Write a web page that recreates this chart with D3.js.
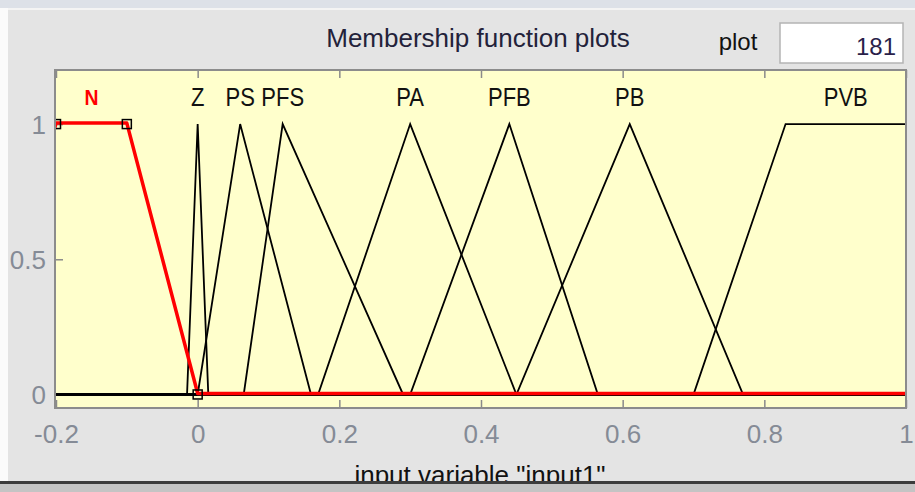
<!DOCTYPE html>
<html>
<head>
<meta charset="utf-8">
<script src="https://d3js.org/d3.v7.min.js"></script>
<style>
body {margin: 0; background: #e4e4e4;}
text {font-family: "Liberation Sans", Arial, sans-serif;}
</style>
</head>
<body>
<svg id="chart" width="915" height="492"></svg>
<script>
// membership functions of input1 (params)
var mfNames  = ["N", "Z", "PS", "PFS", "PA", "PFB", "PB", "PVB"];
var mfTypes  = ["trapmf", "trimf", "trimf", "trimf", "trimf", "trimf", "trimf", "trapmf"];
var mfParams = [
    [-0.3, -0.2, -0.1, 0],
    [-0.015, 0, 0.015],
    [0, 0.06, 0.16],
    [0.065, 0.12, 0.29],
    [0.17, 0.3, 0.45],
    [0.3, 0.44, 0.565],
    [0.45, 0.61, 0.77],
    [0.7, 0.83, 1, 1.1]
];
var selected = 0;   // N is highlighted
var xRange = [-0.2, 1];
var yRange = [-0.05, 1.2];
var xTicks = [-0.2, 0, 0.2, 0.4, 0.6, 0.8, 1];
var yTicks = [0, 0.5, 1];
var plotPoints = 181;

var svg = d3.select("#chart");
var W = 915, H = 492;
var box = {left: 55, right: 906, top: 70, bottom: 408};

//background
svg.append("rect").attr("width", W).attr("height", H).attr("fill", "#e4e4e4");
svg.append("rect").attr("width", W).attr("height", 8).attr("fill", "#dde1e8");
svg.append("rect").attr("y", 8).attr("width", W).attr("height", 2).attr("fill", "#f4f4f4");
svg.append("rect").attr("y", 8).attr("width", 8).attr("height", 474).attr("fill", "#fbfbfb");

//scales
var x = d3.scaleLinear().domain(xRange).range([56, 906]);
var y = d3.scaleLinear().domain(yRange).range([box.bottom, box.top]);

//title + plot points box
svg.append("text").attr("x", 478).attr("y", 47).attr("text-anchor", "middle")
    .style("font-size", "26px").attr("fill", "#23223a").text("Membership function plots");
svg.append("text").attr("x", 738).attr("y", 50).attr("text-anchor", "middle")
    .style("font-size", "24px").attr("fill", "#111").text("plot");
svg.append("rect").attr("x", 780).attr("y", 23).attr("width", 123).attr("height", 40)
    .attr("fill", "#fff").attr("stroke", "#b4b4b4").attr("stroke-width", 1.5);
svg.append("text").attr("x", 896).attr("y", 55).attr("text-anchor", "end")
    .style("font-size", "24px").attr("fill", "#2a1f4a").text(plotPoints);

//axes box
svg.append("rect").attr("x", box.left).attr("y", box.top)
    .attr("width", box.right - box.left).attr("height", box.bottom - box.top)
    .attr("fill", "#ffffcc");

svg.append("clipPath").attr("id", "clip").append("rect")
    .attr("x", box.left).attr("y", box.top)
    .attr("width", box.right - box.left).attr("height", box.bottom - box.top);

var fmt = function(d) { return String(Math.round(d * 10) / 10); };

var xAxis = svg.append("g").attr("transform", "translate(0," + box.bottom + ")")
    .call(d3.axisBottom(x).tickValues(xTicks).tickFormat(fmt).tickSizeInner(-8).tickSizeOuter(0).tickPadding(17));
var xTop = svg.append("g").attr("transform", "translate(0," + box.top + ")")
    .call(d3.axisTop(x).tickValues(xTicks).tickFormat("").tickSizeInner(-8).tickSizeOuter(0));
var yAxis = svg.append("g").attr("transform", "translate(" + box.left + ",0)")
    .call(d3.axisLeft(y).tickValues(yTicks).tickFormat(d3.format("~g")).tickSizeInner(-8).tickSizeOuter(0).tickPadding(9));

[xAxis, xTop, yAxis].forEach(function(g) {
    g.select(".domain").remove();
    g.selectAll(".tick line").attr("stroke", "#8a8a8a").attr("stroke-width", 1.5);
    g.selectAll(".tick text").attr("fill", "#858b96").style("font-size", "26px")
        .style("font-family", "'Liberation Sans', Arial, sans-serif");
});
yAxis.selectAll(".tick text").attr("dy", "0.36em");

//membership function curves
function vertices(type, p) {
    if (type == "trimf") return [[xRange[0], 0], [p[0], 0], [p[1], 1], [p[2], 0], [xRange[1], 0]];
    return [[Math.min(p[0], xRange[0]), 0], [p[0], 0], [p[1], 1], [p[2], 1], [p[3], 0], [Math.max(p[3], xRange[1]), 0]];
}
var line = d3.line().x(function(d) { return x(d[0]); }).y(function(d) { return y(d[1]); });

var curves = svg.append("g").attr("clip-path", "url(#clip)");
mfNames.forEach(function(name, i) {
    if (i == selected) return;
    curves.append("path").attr("d", line(vertices(mfTypes[i], mfParams[i])))
        .attr("fill", "none").attr("stroke", "#000").attr("stroke-width", 1.8);
});
curves.append("path").attr("d", line(vertices(mfTypes[selected], mfParams[selected])))
    .attr("transform", "translate(0,-1)")
    .attr("fill", "none").attr("stroke", "#ff0000").attr("stroke-width", 3.5)
    .attr("stroke-linejoin", "round");

//markers on the selected function
var sp = mfParams[selected];
var markerPts = [[sp[0], 0], [sp[1], 1], [sp[2], 1], [sp[3], 0]];
curves.selectAll("rect.marker").data(markerPts).enter().append("rect")
    .attr("class", "marker")
    .attr("x", function(d) { return x(d[0]) - 4.5; })
    .attr("y", function(d) { return y(d[1]) - 4.5; })
    .attr("width", 9).attr("height", 9)
    .attr("fill", "none").attr("stroke", "#000").attr("stroke-width", 1.5);

//labels (a bit narrower than the regular font)
mfNames.forEach(function(name, i) {
    var p = mfParams[i];
    var cx = mfTypes[i] == "trimf" ? p[1] : (Math.max(p[1], xRange[0]) + Math.min(p[2], xRange[1])) / 2;
    svg.append("text")
        .attr("transform", "translate(" + x(cx) + "," + y(1.1) + ") scale(0.88,1)")
        .attr("dy", "0.36em")
        .attr("text-anchor", "middle")
        .style("font-size", i == selected ? "22px" : "25px")
        .style("font-weight", i == selected ? "bold" : "normal")
        .attr("fill", i == selected ? "#ff0000" : "#111")
        .text(name);
});

//box border
svg.append("rect").attr("x", box.left).attr("y", box.top)
    .attr("width", box.right - box.left).attr("height", box.bottom - box.top)
    .attr("fill", "none").attr("stroke", "#8c8c8c").attr("stroke-width", 2);

//x label
svg.append("text").attr("x", 480).attr("y", 484).attr("text-anchor", "middle")
    .style("font-size", "26px").attr("fill", "#111").text('input variable "input1"');

//bottom edge
svg.append("rect").attr("y", 481).attr("width", W).attr("height", 3).attr("fill", "#3c3c3c");
svg.append("rect").attr("y", 484).attr("width", W).attr("height", 8).attr("fill", "#c4c4c4");
</script>
</body>
</html>
